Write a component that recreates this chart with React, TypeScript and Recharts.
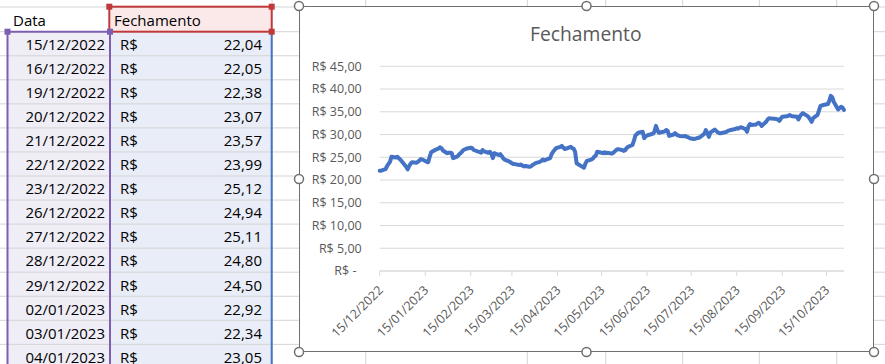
import { LineChart, Line, XAxis, YAxis, CartesianGrid } from "recharts";

// closing prices (first 14 are the visible table rows)
const dates = [
  "15/12/2022", "16/12/2022", "19/12/2022", "20/12/2022", "21/12/2022", "22/12/2022", "23/12/2022",
  "26/12/2022", "27/12/2022", "28/12/2022", "29/12/2022", "02/01/2023", "03/01/2023", "04/01/2023",
  "05/01/2023", "06/01/2023", "09/01/2023", "10/01/2023", "11/01/2023", "12/01/2023", "13/01/2023",
  "16/01/2023", "17/01/2023", "18/01/2023", "19/01/2023", "20/01/2023", "23/01/2023", "24/01/2023",
  "25/01/2023", "26/01/2023", "27/01/2023", "30/01/2023", "31/01/2023", "01/02/2023", "02/02/2023",
  "03/02/2023", "06/02/2023", "07/02/2023", "08/02/2023", "09/02/2023", "10/02/2023", "13/02/2023",
  "14/02/2023", "15/02/2023", "16/02/2023", "17/02/2023", "22/02/2023", "23/02/2023", "24/02/2023",
  "27/02/2023", "28/02/2023", "01/03/2023", "02/03/2023", "03/03/2023", "06/03/2023", "07/03/2023",
  "08/03/2023", "09/03/2023", "10/03/2023", "13/03/2023", "14/03/2023", "15/03/2023", "16/03/2023",
  "17/03/2023", "20/03/2023", "21/03/2023", "22/03/2023", "23/03/2023", "24/03/2023", "27/03/2023",
  "28/03/2023", "29/03/2023", "30/03/2023", "31/03/2023", "03/04/2023", "04/04/2023", "05/04/2023",
  "06/04/2023", "10/04/2023", "11/04/2023", "12/04/2023", "13/04/2023", "14/04/2023", "17/04/2023",
  "18/04/2023", "19/04/2023", "20/04/2023", "24/04/2023", "25/04/2023", "26/04/2023", "27/04/2023",
  "28/04/2023", "02/05/2023", "03/05/2023", "04/05/2023", "05/05/2023", "08/05/2023", "09/05/2023",
  "10/05/2023", "11/05/2023", "12/05/2023", "15/05/2023", "16/05/2023", "17/05/2023", "18/05/2023",
  "19/05/2023", "22/05/2023", "23/05/2023", "24/05/2023", "25/05/2023", "26/05/2023", "29/05/2023",
  "30/05/2023", "31/05/2023", "01/06/2023", "02/06/2023", "05/06/2023", "06/06/2023", "07/06/2023",
  "09/06/2023", "12/06/2023", "13/06/2023", "14/06/2023", "15/06/2023", "16/06/2023", "19/06/2023",
  "20/06/2023", "21/06/2023", "22/06/2023", "23/06/2023", "26/06/2023", "27/06/2023", "28/06/2023",
  "29/06/2023", "30/06/2023", "03/07/2023", "04/07/2023", "05/07/2023", "06/07/2023", "07/07/2023",
  "10/07/2023", "11/07/2023", "12/07/2023", "13/07/2023", "14/07/2023", "17/07/2023", "18/07/2023",
  "19/07/2023", "20/07/2023", "21/07/2023", "24/07/2023", "25/07/2023", "26/07/2023", "27/07/2023",
  "28/07/2023", "31/07/2023", "01/08/2023", "02/08/2023", "03/08/2023", "04/08/2023", "07/08/2023",
  "08/08/2023", "09/08/2023", "10/08/2023", "11/08/2023", "14/08/2023", "15/08/2023", "16/08/2023",
  "17/08/2023", "18/08/2023", "21/08/2023", "22/08/2023", "23/08/2023", "24/08/2023", "25/08/2023",
  "28/08/2023", "29/08/2023", "30/08/2023", "31/08/2023", "01/09/2023", "04/09/2023", "05/09/2023",
  "06/09/2023", "08/09/2023", "11/09/2023", "12/09/2023", "13/09/2023", "14/09/2023", "15/09/2023",
  "18/09/2023", "19/09/2023", "20/09/2023", "21/09/2023", "22/09/2023", "25/09/2023", "26/09/2023",
  "27/09/2023", "28/09/2023", "29/09/2023", "02/10/2023", "03/10/2023", "04/10/2023", "05/10/2023",
  "06/10/2023", "09/10/2023", "10/10/2023", "11/10/2023", "13/10/2023", "16/10/2023", "17/10/2023",
  "18/10/2023", "19/10/2023", "20/10/2023", "23/10/2023", "24/10/2023", "25/10/2023", "26/10/2023",
  "27/10/2023",
];

const closes = [
  22.04, 22.05, 22.38, 23.07, 23.57, 23.99, 25.12,
  24.94, 25.11, 24.8, 24.5, 22.92, 22.34, 23.05,
  23.6, 23.9, 23.8, 24.0, 24.3, 24.6, 24.5,
  24.0, 23.9, 25.1, 26.1, 26.3, 26.8, 26.9,
  27.2, 27.0, 26.5, 25.9, 26.0, 26.0, 25.9,
  24.8, 25.2, 25.6, 25.9, 26.2, 26.6, 27.0,
  27.0, 27.1, 27.0, 26.6, 26.0, 26.6, 26.3,
  26.0, 26.2, 25.8, 24.8, 25.9, 25.5, 25.7,
  25.3, 24.8, 24.5, 24.1, 23.9, 23.7, 23.5,
  23.5, 23.3, 23.4, 23.2, 23.0, 23.1, 22.9,
  23.0, 23.3, 23.5, 23.7, 24.0, 24.2, 24.5,
  24.3, 24.8, 25.7, 26.2, 26.6, 27.0, 27.3,
  27.5, 27.1, 26.8, 27.3, 27.0, 26.9, 26.2,
  23.7, 22.9, 22.7, 23.6, 24.2, 24.5, 24.7,
  25.1, 25.3, 26.2, 26.0, 25.9, 26.1, 25.9,
  26.0, 25.8, 26.0, 26.3, 26.6, 26.8, 26.6,
  26.4, 26.5, 27.0, 27.3, 27.7, 28.6, 29.8,
  30.4, 30.6, 29.2, 29.6, 29.8, 29.9, 30.2,
  30.6, 31.9, 31.0, 30.4, 30.6, 30.7, 31.0,
  30.8, 29.7, 30.0, 30.3, 30.0, 29.8, 29.7,
  29.6, 29.7, 29.5, 29.4, 29.2, 29.0, 29.1,
  29.2, 29.3, 29.4, 30.2, 31.0, 30.3, 29.5,
  30.4, 31.1, 30.8, 30.5, 30.3, 30.3, 30.5,
  30.6, 30.8, 30.9, 31.0, 31.2, 31.4, 31.3,
  31.5, 31.6, 31.2, 30.6, 31.8, 32.3, 32.1,
  32.2, 32.4, 32.6, 32.3, 31.9, 32.8, 33.3,
  33.6, 33.5, 33.4, 33.3, 33.0, 33.5, 33.9,
  34.0, 34.1, 34.3, 34.1, 34.0, 33.9, 33.3,
  34.0, 34.4, 34.7, 34.1, 33.8, 33.3, 32.8,
  33.6, 34.3, 35.3, 36.3, 36.5, 36.7, 37.4,
  38.5, 38.2, 37.2, 35.5, 35.8, 36.1, 35.9,
  35.4,
];

const xTickLabels = [
  "15/12/2022", "15/01/2023", "15/02/2023", "15/03/2023", "15/04/2023", "15/05/2023",
  "15/06/2023", "15/07/2023", "15/08/2023", "15/09/2023", "15/10/2023",
];
const yTicks = [0, 5, 10, 15, 20, 25, 30, 35, 40, 45];

const parse = (s: string) => {
  const [d, m, y] = s.split("/").map(Number);
  return Date.UTC(y, m - 1, d);
};
const fmtDate = (t: number) => {
  const d = new Date(t);
  const p = (n: number) => String(n).padStart(2, "0");
  return `${p(d.getUTCDate())}/${p(d.getUTCMonth() + 1)}/${d.getUTCFullYear()}`;
};
const money = (v: number) => v.toFixed(2).replace(".", ",");

const data = dates.map((d, i) => ({ t: parse(d), close: closes[i] }));
const xTicks = xTickLabels.map(parse);
const xDomain = [parse(dates[0]), parse(dates[dates.length - 1])];

const FONT = "'Open Sans', sans-serif";
const GRID = "#d9d9d9";
const CELL_LINE = "#d4d4d4";
const ROW0 = 31.7;
const ROW_H = 24.05;
const COL_LINES = [272, 365.7, 527.3, 605.7, 682.7, 759.3, 836.7];

function Sheet() {
  const rows = dates.slice(0, 14);
  return (
    <svg width={885} height={364} style={{ position: "absolute", left: 0, top: 0 }}>
      <rect x={8} y={ROW0} width={102} height={364 - ROW0} fill="#efedf6" />
      <rect x={110} y={ROW0} width={162} height={364 - ROW0} fill="#e9edf7" />
      <rect x={110} y={7} width={162} height={ROW0 - 7} fill="#fbe9e9" />
      <line x1={0} x2={885} y1={7} y2={7} stroke={CELL_LINE} />
      {Array.from({ length: 15 }, (_, k) => (
        <line key={k} x1={0} x2={885} y1={ROW0 + ROW_H * k} y2={ROW0 + ROW_H * k} stroke={CELL_LINE} />
      ))}
      {COL_LINES.map((x) => (
        <line key={x} x1={x} x2={x} y1={0} y2={364} stroke={CELL_LINE} />
      ))}
      <g fontFamily={FONT} fontSize={15} fill="#000">
        <text x={13} y={25.7}>Data</text>
        <text x={114} y={25.7}>Fechamento</text>
        {rows.map((d, i) => (
          <g key={d}>
            <text x={105} y={ROW0 + ROW_H * i + 18.3} textAnchor="end">{d}</text>
            <text x={120} y={ROW0 + ROW_H * i + 18.3}>R$</text>
            <text x={262} y={ROW0 + ROW_H * i + 18.3} textAnchor="end">{money(closes[i])}</text>
          </g>
        ))}
      </g>
      {/* range highlight borders */}
      <path d={`M7.5 364 V${ROW0} H110 V364`} fill="none" stroke="#7d5fb2" strokeWidth={2} />
      <line x1={271.7} x2={271.7} y1={ROW0} y2={364} stroke="#4472c4" strokeWidth={2} />
      <rect x={109.3} y={6.7} width={162.4} height={ROW0 - 6.7} fill="none" stroke="#c0393b" strokeWidth={2} />
      {[[109.3, 6.7], [271.7, 6.7], [271.7, ROW0]].map(([x, y]) => (
        <rect key={`r${x}${y}`} x={x - 3} y={y - 3} width={6} height={6} fill="#c0393b" />
      ))}
      {[[7.5, ROW0], [110, ROW0]].map(([x, y]) => (
        <rect key={`p${x}${y}`} x={x - 3} y={y - 3} width={6} height={6} fill="#7d5fb2" />
      ))}
    </svg>
  );
}

const YTick = (props: any) => {
  const { y, payload } = props;
  const v = payload.value as number;
  return (
    <text x={v === 0 ? 57.5 : 62.7} y={y + 4.3} textAnchor="end" fontFamily={FONT} fontSize={12.5} fill="#595959">
      {v === 0 ? "R$ -" : `R$ ${money(v)}`}
    </text>
  );
};

// rotated date label, anchored at its end just below the tick
const XTick = (props: any) => {
  const { x, payload } = props;
  const ax = x + 4;
  const ay = 285;
  return (
    <text
      x={ax}
      y={ay}
      textAnchor="end"
      transform={`rotate(-45 ${ax} ${ay})`}
      fontFamily={FONT}
      fontSize={12.5}
      fill="#595959"
    >
      {fmtDate(payload.value)}
    </text>
  );
};

const HANDLES = [
  [299, 6], [586.5, 6], [874, 6], [299, 179], [874, 179], [299, 352], [586.5, 352], [874, 352],
];

export default function App() {
  return (
    <div style={{ position: "absolute", left: 0, top: 0, width: 885, height: 364, overflow: "hidden", background: "#fff" }}>
      <Sheet />
      <div
        style={{
          position: "absolute",
          left: 299,
          top: 6,
          width: 575,
          height: 346,
          background: "#fff",
          border: "1.5px solid #6f6f6f",
          boxSizing: "border-box",
        }}
      />
      <div style={{ position: "absolute", left: 299, top: 6 }}>
        <LineChart width={575} height={346} data={data} margin={{ top: 60.3, right: 30, left: 0, bottom: 0 }}>
          <CartesianGrid vertical={false} stroke={GRID} />
          <XAxis
            dataKey="t"
            type="number"
            scale="time"
            domain={xDomain}
            ticks={xTicks}
            interval={0}
            height={81}
            stroke={GRID}
            tickSize={5}
            tick={<XTick />}
          />
          <YAxis
            domain={[0, 45]}
            ticks={yTicks}
            interval={0}
            width={80.7}
            axisLine={false}
            tickLine={false}
            tick={<YTick />}
          />
          <Line
            type="linear"
            dataKey="close"
            stroke="#4472c4"
            strokeWidth={4}
            strokeLinejoin="round"
            strokeLinecap="round"
            dot={false}
            isAnimationActive={false}
          />
        </LineChart>
      </div>
      <svg width={885} height={364} style={{ position: "absolute", left: 0, top: 0, pointerEvents: "none" }}>
        <text x={585.8} y={40.7} textAnchor="middle" fontFamily={FONT} fontSize={19.3} fill="#595959">
          Fechamento
        </text>
        {HANDLES.map(([x, y]) => (
          <circle key={`${x}-${y}`} cx={x} cy={y} r={4.5} fill="#fff" stroke="#6f6f6f" strokeWidth={1.5} />
        ))}
      </svg>
    </div>
  );
}
